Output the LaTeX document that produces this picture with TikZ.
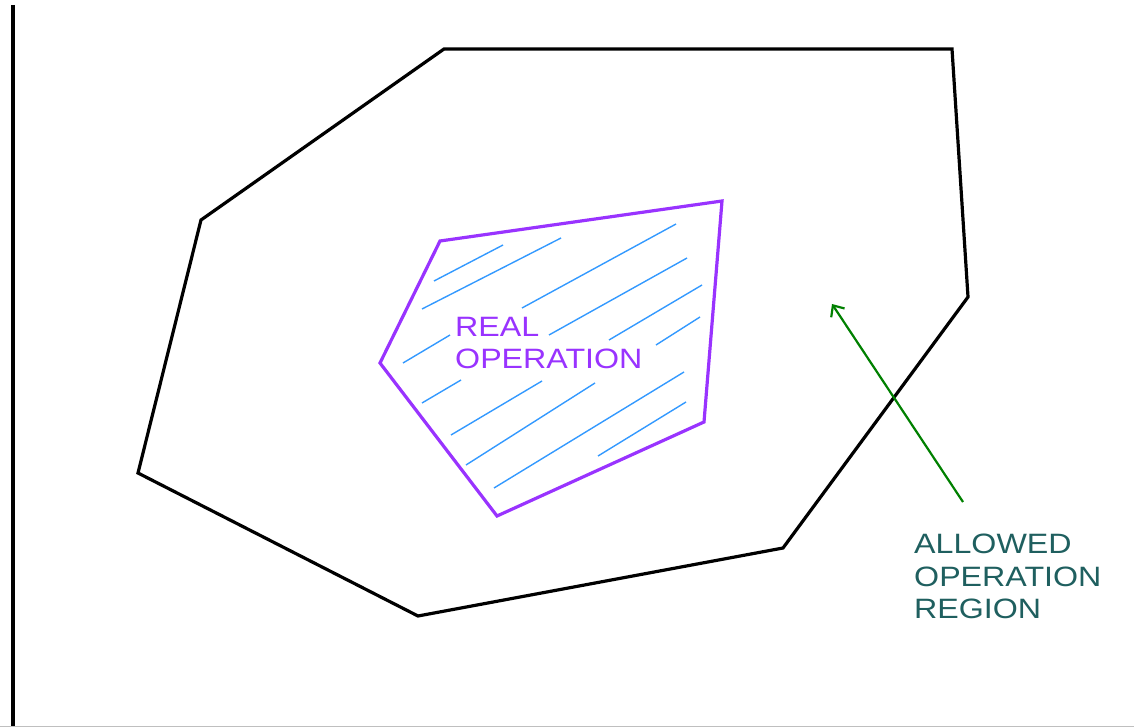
\documentclass[tikz,border=0pt]{standalone}
\usepackage{fontspec}
\setmainfont{Liberation Sans}
\newfontfamily\sketchfont[FakeStretch=1.15]{Liberation Sans}
\usetikzlibrary{arrows.meta}

\definecolor{realviolet}{HTML}{9933FF}
\definecolor{hatchblue}{HTML}{3399FF}
\definecolor{arrowgreen}{HTML}{008000}
\definecolor{tagteal}{HTML}{1F5F5F}

\begin{document}
\begin{tikzpicture}[
    x=1pt, y=-1pt,
    outer/.style={draw=black, line width=3.2pt},
    real/.style={draw=realviolet, line width=3.2pt},
    hatch/.style={draw=hatchblue, line width=1.4pt},
    pointer/.style={draw=arrowgreen, line width=2.2pt, -{Straight Barb[length=9pt, width=16pt]}},
    tag/.style={font=\sketchfont\fontsize{28}{32.5}\selectfont, align=left, inner sep=0pt, anchor=north west}
]
    \useasboundingbox (0,0) rectangle (1134,727);

    % Frame
    \draw[line width=4pt] (13,5) -- (13,727);
    \draw[black!25, line width=1pt] (0,726) -- (1134,726);

    % Allowed region
    \draw[outer] (444,49) -- (952,49) -- (968,297) -- (783,548) -- (418,616)
        -- (138,473) -- (201,220) -- cycle;

    % Real operation
    \foreach \xa/\ya/\xb/\yb in {434/281/503/245, 422/309/561/238, 522/308/676/224,
        549/335/687/258, 609/340/702/285, 656/345/700/317, 403/363/450/335,
        422/403/461/380, 451/435/542/381, 466/465/595/383, 494/488/684/372,
        598/456/686/402}
        \draw[hatch] (\xa,\ya) -- (\xb,\yb);
    \draw[real] (440,241) -- (722,201) -- (704,422) -- (497,516) -- (380,363) -- cycle;

    \node[tag, text=realviolet] (realtag) at (455,317) {REAL\\OPERATION};

    % Pointer
    \node[tag, text=tagteal] (allowedtag) at (914,534) {ALLOWED\\OPERATION\\REGION};
    \coordinate (tail) at (963,502);
    \coordinate (tip) at (832,304);
    \draw[pointer] (tail) -- (tip);

\end{tikzpicture}
\end{document}
